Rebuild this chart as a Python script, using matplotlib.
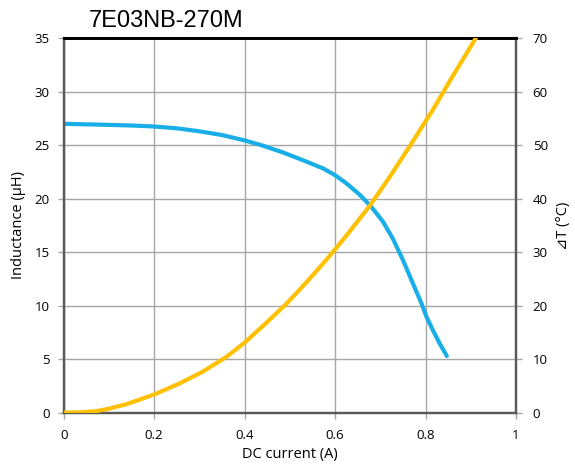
import matplotlib
matplotlib.use("Agg")
import matplotlib.pyplot as plt

# Inductance curve (left axis)
ind_current = [0.0, 0.1, 0.15, 0.2, 0.25, 0.3, 0.35, 0.4, 0.441, 0.485, 0.529, 0.573, 0.6,
               0.625, 0.655, 0.68, 0.706, 0.728, 0.75, 0.772, 0.791, 0.802, 0.816, 0.831, 0.847]
ind_values = [27.0, 26.9, 26.84, 26.75, 26.58, 26.3, 25.95, 25.45, 24.95, 24.32, 23.6, 22.84, 22.2,
              21.44, 20.35, 19.25, 17.85, 16.25, 14.27, 12.09, 10.22, 8.97, 7.73, 6.49, 5.3]

# Temperature rise curve (right axis)
dt_current = [0.0, 0.04, 0.073, 0.1, 0.139, 0.2, 0.257, 0.308, 0.36, 0.4, 0.448, 0.493, 0.537,
              0.581, 0.625, 0.677, 0.721, 0.765, 0.816, 0.86, 0.911]
dt_values = [0.0, 0.08, 0.3, 0.75, 1.6, 3.4, 5.5, 7.7, 10.45, 13.1, 16.8, 20.4, 24.4,
             28.6, 33.1, 38.7, 44.1, 49.8, 56.6, 62.9, 70.0]

x_ticks = [0, 0.2, 0.4, 0.6, 0.8, 1]
x_tick_labels = ["0", "0.2", "0.4", "0.6", "0.8", "1"]
left_ticks = [0, 5, 10, 15, 20, 25, 30, 35]
right_ticks = [0, 10, 20, 30, 40, 50, 60, 70]

title = "7E03NB-270M"
xlabel = "DC current (A)"
ylabel_left = "Inductance (μH)"
ylabel_right = "⊿T (°C)"

tick_font = ["Open Sans", "DejaVu Sans"]

fig = plt.figure(figsize=(5.75, 4.74), dpi=100)
ax = fig.add_axes([0.1107, 0.1293, 0.8974 - 0.1107, 0.9194 - 0.1293])
ax2 = ax.twinx()

ax.set_xlim(0, 1)
ax.set_ylim(0, 35)
ax2.set_ylim(0, 70)

ax.set_xticks(x_ticks)
ax.set_xticklabels(x_tick_labels)
ax.set_yticks(left_ticks)
ax2.set_yticks(right_ticks)

ax.grid(True, color="#A6A6A6", linewidth=1.0)
ax.set_axisbelow(True)

ax.plot(ind_current, ind_values, color="#1AAEE8", linewidth=3.0, solid_capstyle="round",
        solid_joinstyle="round", zorder=3)
ax2.plot(dt_current, dt_values, color="#FFC000", linewidth=3.0, solid_capstyle="round",
         solid_joinstyle="round", zorder=3)

for a in (ax, ax2):
    for s in ("left", "right", "bottom"):
        a.spines[s].set_color("#595959")
        a.spines[s].set_linewidth(1.6)
    a.spines["top"].set_color("black")
    a.spines["top"].set_linewidth(2.0)
    a.tick_params(axis="both", direction="out", length=4, width=1, color="#A6A6A6",
                  labelsize=9.5, labelcolor="black", pad=3)
    for lab in a.get_xticklabels() + a.get_yticklabels():
        lab.set_family(tick_font)

ax.tick_params(axis="x", pad=8)
ax.tick_params(axis="y", pad=6)
ax2.tick_params(axis="y", pad=8)

ax.set_xlabel(xlabel, fontsize=10.5, family=tick_font, labelpad=3)
ax.set_ylabel(ylabel_left, fontsize=10.5, family=tick_font, labelpad=6)
ax2.set_ylabel(ylabel_right, fontsize=10.5, family=tick_font, labelpad=6)

fig.text(0.155, 0.955, title, fontsize=17, family=["Liberation Sans", "DejaVu Sans"],
         ha="left", va="center")

fig.savefig("out.png", dpi=100)
